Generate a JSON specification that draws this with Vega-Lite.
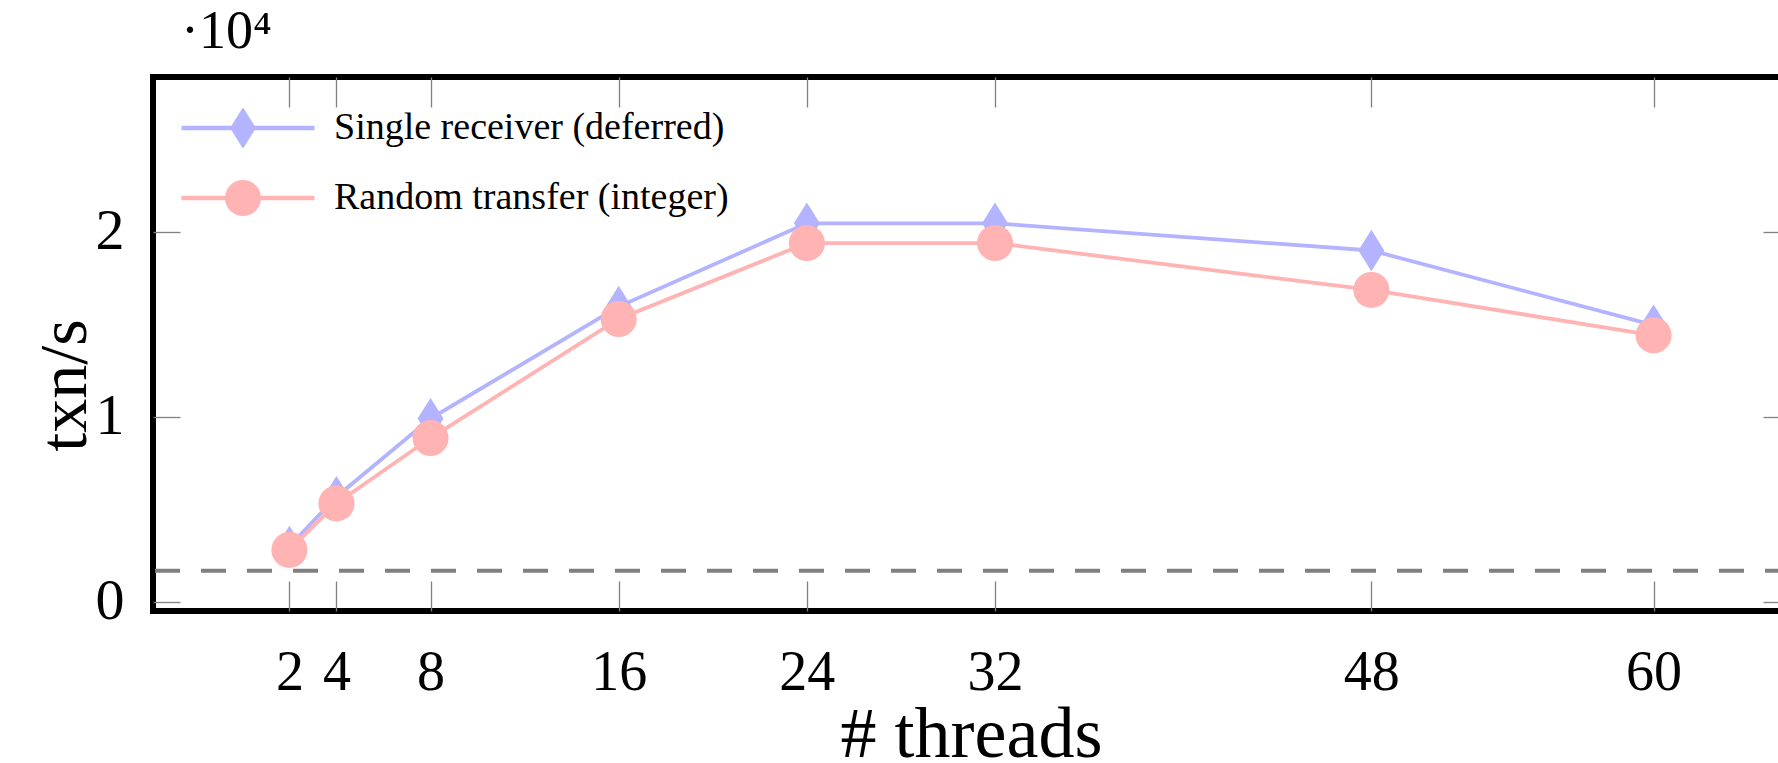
{
  "$schema": "https://vega.github.io/schema/vega-lite/v6.json",
  "width": 1637,
  "height": 534,
  "autosize": {"type": "none"},
  "padding": {"left": 153, "top": 77, "right": 0, "bottom": 152},
  "background": "white",
  "config": {
    "font": "Liberation Serif",
    "view": {"stroke": "black", "strokeWidth": 6},
    "axis": {"grid": false, "domain": false, "labelColor": "black", "titleColor": "black", "titleFontWeight": "normal", "tickColor": "#808080", "tickWidth": 1.3}
  },
  "title": {
    "text": "·10⁴",
    "anchor": "start",
    "frame": "group",
    "orient": "top",
    "dx": 28,
    "dy": 49,
    "offset": 23,
    "baseline": "alphabetic",
    "fontSize": 54,
    "fontWeight": "normal",
    "color": "black",
    "font": "Liberation Serif"
  },
  "datasets": {
    "series": [
      {"threads": 2, "txn": 3000, "series": "Single receiver (deferred)"},
      {"threads": 4, "txn": 5680, "series": "Single receiver (deferred)"},
      {"threads": 8, "txn": 9900, "series": "Single receiver (deferred)"},
      {"threads": 16, "txn": 15950, "series": "Single receiver (deferred)"},
      {"threads": 24, "txn": 20450, "series": "Single receiver (deferred)"},
      {"threads": 32, "txn": 20450, "series": "Single receiver (deferred)"},
      {"threads": 48, "txn": 18980, "series": "Single receiver (deferred)"},
      {"threads": 60, "txn": 14950, "series": "Single receiver (deferred)"},
      {"threads": 2, "txn": 2810, "series": "Random transfer (integer)"},
      {"threads": 4, "txn": 5320, "series": "Random transfer (integer)"},
      {"threads": 8, "txn": 8850, "series": "Random transfer (integer)"},
      {"threads": 16, "txn": 15280, "series": "Random transfer (integer)"},
      {"threads": 24, "txn": 19380, "series": "Random transfer (integer)"},
      {"threads": 32, "txn": 19380, "series": "Random transfer (integer)"},
      {"threads": 48, "txn": 16850, "series": "Random transfer (integer)"},
      {"threads": 60, "txn": 14400, "series": "Random transfer (integer)"}
    ],
    "baseline": [{"txn": 1680}]
  },
  "resolve": {"axis": {"x": "independent", "y": "independent"}},
  "layer": [
    {
      "data": {"name": "baseline"},
      "mark": {"type": "rule", "stroke": "#808080", "strokeWidth": 4, "strokeDash": [25, 21]},
      "encoding": {
        "y": {
          "field": "txn", "type": "quantitative",
          "scale": {"domain": [-490, 28350], "nice": false, "zero": false},
          "axis": {
            "orient": "left", "values": [0, 10000, 20000], "labelExpr": "datum.value / 10000",
            "tickSize": -27, "labelPadding": 56, "labelFontSize": 58,
            "title": "txn/s", "titleFontSize": 68, "titleAngle": -90, "titleX": -68, "titleY": 308,
            "titleAlign": "center", "titleBaseline": "alphabetic"
          }
        }
      }
    },
    {
      "data": {"name": "series"},
      "mark": {"type": "line", "strokeWidth": 3.8},
      "encoding": {
        "x": {
          "field": "threads", "type": "quantitative",
          "scale": {"domain": [-3.8, 65.8], "nice": false, "zero": false},
          "axis": {
            "orient": "bottom", "values": [2, 4, 8, 16, 24, 32, 48, 60],
            "tickSize": -30, "labelPadding": 64, "labelFontSize": 56,
            "title": "# threads", "titleFontSize": 72, "titleY": 145, "titleX": 818,
            "titleBaseline": "alphabetic", "titleAlign": "center"
          }
        },
        "y": {
          "field": "txn", "type": "quantitative",
          "axis": {"orient": "right", "values": [0, 10000, 20000], "labels": false, "tickSize": -27, "title": null}
        },
        "stroke": {
          "field": "series", "type": "nominal",
          "scale": {"domain": ["Single receiver (deferred)", "Random transfer (integer)"], "range": ["#b3b3ff", "#ffb3b3"]},
          "legend": {
            "orient": "none", "legendX": 26, "legendY": 31, "title": null,
            "symbolType": "stroke", "symbolSize": 17689, "symbolStrokeWidth": 4.5,
            "labelFontSize": 38, "labelColor": "black", "labelOffset": 17, "labelLimit": 0,
            "clipHeight": 40, "rowPadding": 30, "padding": 0
          }
        }
      }
    },
    {
      "data": {"name": "series"},
      "mark": {"type": "point", "filled": true, "opacity": 1, "size": 1300, "strokeWidth": 0},
      "encoding": {
        "x": {
          "field": "threads", "type": "quantitative",
          "axis": {"orient": "top", "values": [2, 4, 8, 16, 24, 32, 48, 60], "labels": false, "tickSize": -30, "title": null}
        },
        "y": {"field": "txn", "type": "quantitative", "axis": null},
        "fill": {
          "field": "series", "type": "nominal",
          "scale": {"domain": ["Single receiver (deferred)", "Random transfer (integer)"], "range": ["#b3b3ff", "#ffb3b3"]},
          "legend": null
        },
        "shape": {
          "field": "series", "type": "nominal",
          "scale": {"domain": ["Single receiver (deferred)", "Random transfer (integer)"], "range": ["M0,-1.15L0.72,0L0,1.15L-0.72,0Z", "circle"]},
          "legend": {
            "orient": "top-left", "offset": 31, "title": null, "symbolOffset": 40,
            "symbolSize": 1300, "symbolStrokeWidth": 0, "symbolFillColor": "#b3b3ff",
            "labelExpr": "''", "labelFontSize": 38, "clipHeight": 40, "rowPadding": 30, "padding": 0
          }
        }
      }
    }
  ]
}
